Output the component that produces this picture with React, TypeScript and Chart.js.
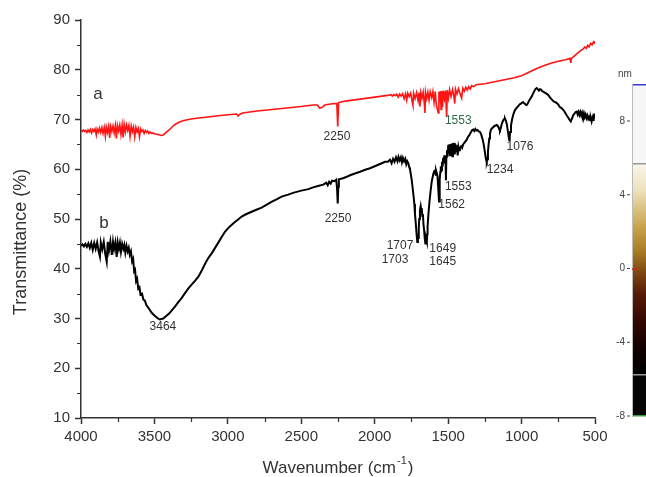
import React, { useEffect, useRef } from "react";
import { Chart, registerables } from "chart.js";
Chart.register(...registerables);

const FONT = 'Arial, "Liberation Sans", Helvetica, sans-serif';

const xTickValues = [4000, 3500, 3000, 2500, 2000, 1500, 1000, 500];
const xMinorTicks = [3750, 3250, 2750, 2250, 1750, 1250, 750];
const yTickValues = [10, 20, 30, 40, 50, 60, 70, 80, 90];
const yMinorTicks = [15, 25, 35, 45, 55, 65, 75, 85];

const xTitle = "Wavenumber (cm";
const xTitleSup = "-1";
const yTitle = "Transmittance (%)";

// curve a (red): [wavenumber, transmittance]
const curveA: [number, number][] = [
  [4000, 67.8], [3992, 67.6], [3984, 67.9], [3976, 67.6], [3968, 67.8], [3960, 67.4], [3952, 67.9], [3944, 67.5],
  [3936, 68.0], [3928, 67.3], [3920, 68.0], [3912, 67.6], [3904, 68.1], [3896, 66.9], [3890, 68.1], [3882, 67.5],
  [3874, 68.3], [3866, 67.4], [3858, 68.4], [3850, 67.2], [3842, 68.4], [3834, 66.6], [3828, 68.5], [3820, 67.4],
  [3812, 68.6], [3805, 66.3], [3798, 68.6], [3790, 67.6], [3782, 68.7], [3774, 67.3], [3766, 68.8], [3759, 66.2],
  [3752, 68.8], [3744, 67.7], [3736, 68.9], [3728, 67.0], [3720, 68.9], [3713, 66.4], [3706, 69.0], [3698, 67.5],
  [3690, 68.9], [3682, 67.8], [3674, 68.8], [3666, 66.6], [3658, 68.7], [3650, 67.6], [3642, 68.5], [3634, 66.5],
  [3626, 68.4], [3618, 67.5], [3610, 68.2], [3602, 66.5], [3594, 68.1], [3586, 67.6], [3578, 67.9], [3570, 67.2],
  [3562, 67.8], [3554, 67.4], [3546, 67.7], [3538, 67.2], [3530, 67.5], [3520, 67.2], [3510, 67.3], [3500, 67.1],
  [3490, 67.1], [3475, 67.0], [3455, 66.8], [3440, 66.9], [3420, 67.4], [3400, 67.9], [3380, 68.5], [3360, 69.0],
  [3330, 69.5], [3300, 69.8], [3250, 70.1], [3200, 70.3], [3135, 70.5], [3050, 70.8], [2980, 71.0], [2940, 71.1],
  [2930, 70.7], [2920, 71.0], [2900, 71.3], [2800, 71.7], [2700, 72.0], [2600, 72.3], [2500, 72.6], [2420, 72.9],
  [2390, 72.9], [2375, 72.3], [2360, 72.4], [2340, 72.9], [2300, 73.1], [2270, 73.2], [2258, 73.2], [2252, 68.6],
  [2246, 73.4], [2230, 73.5], [2200, 73.7], [2150, 73.9], [2100, 74.1], [2050, 74.3], [2000, 74.5], [1950, 74.7],
  [1900, 74.9],
  [1890, 75.0], [1880, 74.7], [1870, 75.0], [1860, 74.8], [1850, 75.1], [1840, 74.5], [1830, 75.1], [1820, 74.7],
  [1810, 75.2], [1800, 74.2], [1790, 75.2], [1782, 73.9], [1775, 75.3], [1765, 74.6], [1755, 75.3], [1745, 73.6],
  [1740, 72.9], [1735, 75.3], [1725, 74.2], [1715, 75.4], [1705, 73.8], [1698, 75.4], [1692, 72.6], [1686, 75.4],
  [1678, 74.3], [1670, 75.5], [1662, 73.2], [1658, 71.3], [1654, 75.5], [1646, 74.2], [1638, 75.5], [1630, 73.9],
  [1622, 75.6], [1612, 74.4], [1604, 75.6], [1596, 73.4], [1588, 75.6], [1580, 72.8], [1567, 71.3], [1563, 75.6],
  [1558, 73.6], [1553, 75.7], [1548, 72.0], [1544, 75.7], [1538, 72.5], [1533, 75.8], [1525, 74.2], [1518, 75.8],
  [1510, 70.5], [1506, 75.9], [1498, 74.3], [1490, 76.0], [1480, 74.6], [1470, 76.0], [1462, 74.9], [1455, 73.2],
  [1450, 76.1], [1440, 75.1], [1430, 76.2], [1420, 75.3], [1408, 74.3], [1400, 76.3], [1390, 75.7], [1380, 76.5],
  [1370, 75.9], [1360, 76.6], [1350, 76.1], [1340, 76.8], [1325, 76.6], [1310, 77.0], [1250, 77.2], [1200, 77.5],
  [1150, 77.8], [1100, 78.1], [1050, 78.4], [1000, 78.8], [950, 79.5], [900, 80.2], [850, 80.8], [800, 81.3],
  [750, 81.7], [700, 82.0], [670, 82.3], [665, 81.4], [660, 82.3], [640, 82.8], [620, 83.3], [600, 83.8],
  [580, 84.2], [570, 84.6], [560, 84.3], [550, 84.9], [540, 84.6], [530, 85.3], [520, 85.0], [510, 85.6],
  [505, 85.4], [500, 85.7],
];

// curve b (black): [wavenumber, transmittance]
const curveB: [number, number][] = [
  [4000, 44.6], [3990, 44.9], [3980, 44.5], [3970, 45.0], [3960, 44.4], [3950, 45.1], [3940, 44.2], [3930, 45.2],
  [3920, 43.8], [3910, 45.2], [3900, 44.0], [3890, 45.3], [3880, 43.5], [3871, 42.4], [3865, 45.3], [3855, 43.9],
  [3845, 45.4], [3835, 43.0], [3825, 41.4], [3818, 45.4], [3810, 43.6], [3800, 45.5], [3790, 42.8], [3782, 45.4],
  [3775, 43.9], [3766, 45.3], [3757, 42.4], [3750, 45.3], [3742, 44.0], [3735, 45.2], [3728, 43.4], [3720, 45.0],
  [3712, 44.0], [3705, 44.8], [3698, 43.2], [3690, 44.6], [3682, 43.5], [3675, 44.2], [3668, 42.8], [3660, 43.5],
  [3652, 41.5], [3645, 42.0], [3638, 39.5], [3632, 39.8], [3625, 37.5], [3618, 38.0], [3610, 36.0], [3602, 36.3],
  [3595, 34.8], [3585, 35.0], [3575, 33.8], [3565, 33.6], [3555, 32.7], [3540, 32.1], [3520, 31.2], [3500, 30.6],
  [3480, 30.1], [3464, 29.8], [3440, 30.0], [3420, 30.5], [3400, 31.0], [3380, 31.7], [3360, 32.4], [3340, 33.2],
  [3315, 34.1], [3292, 35.1], [3270, 36.0], [3250, 36.7], [3225, 37.5], [3201, 38.4], [3175, 39.8], [3150, 41.3],
  [3130, 42.3], [3110, 43.1], [3085, 44.3], [3060, 45.5], [3040, 46.5], [3020, 47.4], [2990, 48.4], [2960, 49.2],
  [2930, 49.9], [2906, 50.5], [2880, 50.9], [2850, 51.3], [2810, 51.8], [2770, 52.3], [2735, 52.9], [2700, 53.5],
  [2665, 54.0], [2634, 54.5], [2590, 54.9], [2550, 55.3], [2500, 55.7], [2452, 56.0], [2415, 56.4], [2380, 56.7],
  [2350, 56.9], [2330, 57.3], [2320, 56.8], [2310, 57.5], [2300, 57.1], [2290, 57.7], [2275, 57.6], [2262, 57.9],
  [2256, 56.0], [2252, 53.1], [2248, 56.5], [2244, 58.0], [2216, 58.2], [2190, 58.5], [2168, 58.8], [2130, 59.2],
  [2100, 59.5], [2065, 59.9], [2032, 60.2], [2000, 60.6], [1960, 61.1], [1930, 61.5], [1910, 61.5], [1896, 61.9],
  [1885, 61.2], [1875, 62.1], [1865, 61.5], [1855, 62.4], [1845, 61.6], [1838, 62.5], [1830, 61.8], [1822, 62.4],
  [1815, 61.4], [1808, 62.3], [1800, 61.6], [1792, 62.1], [1785, 61.0], [1778, 61.6], [1771, 61.2], [1765, 60.4],
  [1760, 60.0], [1754, 59.0], [1748, 57.8], [1742, 56.3], [1735, 54.5], [1730, 53.0], [1726, 51.1], [1720, 49.0],
  [1715, 47.0], [1710, 45.4], [1706, 45.9], [1703, 46.2], [1700, 48.0], [1697, 50.0], [1692, 51.8], [1687, 52.6],
  [1683, 51.8], [1680, 52.2], [1676, 50.6], [1672, 51.0], [1668, 49.0], [1663, 47.5], [1659, 46.0], [1655, 45.1],
  [1651, 47.0], [1649, 46.0], [1645, 45.5], [1642, 47.0], [1640, 48.5], [1634, 51.1], [1627, 53.5], [1620, 55.5],
  [1612, 57.5], [1605, 58.5], [1600, 59.2], [1595, 59.6], [1590, 59.9], [1585, 58.9], [1583, 59.8], [1578, 59.3],
  [1572, 58.5], [1568, 56.5], [1565, 55.0], [1562, 53.5], [1559, 55.5], [1556, 58.0], [1553, 59.5], [1550, 60.6],
  [1546, 59.8], [1542, 61.5], [1538, 60.5], [1534, 62.3], [1530, 61.2], [1526, 62.8], [1522, 61.8], [1518, 62.6],
  [1515, 57.8], [1512, 62.5], [1508, 63.8], [1504, 62.5], [1499, 64.9], [1495, 63.2], [1491, 65.0], [1487, 62.8],
  [1483, 65.1], [1479, 63.5], [1475, 65.2], [1471, 62.6], [1467, 65.3], [1463, 63.8], [1459, 65.3], [1455, 63.0],
  [1450, 65.0], [1445, 63.6], [1440, 64.8], [1435, 62.8], [1430, 64.5], [1425, 63.8], [1420, 64.2], [1412, 64.6],
  [1405, 64.3], [1398, 65.0], [1390, 65.3], [1382, 65.6], [1374, 65.9], [1365, 66.5], [1357, 66.8], [1350, 67.2],
  [1342, 67.6], [1336, 67.9], [1329, 68.0], [1322, 67.7], [1315, 68.1], [1308, 67.8], [1300, 67.9], [1292, 67.6],
  [1283, 67.5], [1275, 67.0], [1265, 66.0], [1258, 65.0], [1250, 63.5], [1244, 62.3], [1240, 61.7], [1237, 61.5],
  [1233, 62.0], [1229, 63.5], [1225, 64.8], [1220, 66.2], [1215, 67.2], [1209, 67.9], [1203, 68.2], [1195, 68.4],
  [1185, 68.7], [1177, 68.8], [1169, 68.9], [1162, 68.7], [1155, 68.3], [1150, 67.9], [1147, 67.8], [1142, 68.2],
  [1137, 68.9], [1130, 69.5], [1124, 69.9], [1118, 70.1], [1113, 70.2], [1107, 69.8], [1100, 69.0], [1095, 68.0],
  [1090, 67.0], [1086, 66.2], [1084, 65.9], [1081, 66.3], [1078, 67.5], [1072, 68.8], [1066, 69.8], [1060, 70.6],
  [1053, 71.3], [1045, 71.9], [1035, 72.3], [1020, 72.8], [1010, 73.1], [1000, 73.3], [990, 73.5], [980, 73.2],
  [972, 73.0], [965, 72.9], [958, 73.2], [950, 73.7], [940, 74.2], [931, 74.6], [922, 75.2], [915, 75.6],
  [906, 76.1], [897, 76.3], [890, 76.1], [882, 75.8], [875, 76.1], [868, 76.0], [860, 75.7], [851, 75.6],
  [843, 75.4], [835, 75.3], [826, 75.1], [817, 74.9], [808, 74.5], [800, 74.2], [790, 73.9], [780, 73.6],
  [770, 73.5], [760, 73.3], [750, 73.0], [740, 72.5], [728, 72.3], [715, 71.9], [708, 71.6], [700, 71.2],
  [692, 70.8], [685, 70.5], [675, 70.0], [665, 69.6], [660, 70.0], [655, 70.3], [648, 70.9], [640, 71.2],
  [632, 71.5], [624, 71.6], [618, 71.0], [612, 71.5], [606, 70.9], [600, 71.5], [594, 70.8], [588, 71.4],
  [582, 70.7], [576, 71.3], [570, 70.5], [564, 71.0], [558, 70.3], [552, 70.8], [546, 70.1], [540, 70.5],
  [534, 69.9], [528, 70.2], [523, 69.6], [518, 70.3], [513, 69.9], [509, 70.6], [505, 70.4], [502, 71.2],
  [500, 70.9],
];

// text annotations placed in data coordinates [text, wavenumber, transmittance, colour, size]
const curveLabels: [string, number, number, string, number][] = [
  ["a", 3884, 75.1, "#333333", 17],
  ["b", 3843, 49.2, "#333333", 17],
];
const peakLabels: [string, number, number, string][] = [
  ["2250", 2257, 66.5, "#333333"],
  ["1553", 1431, 69.8, "#2f6b47"],
  ["3464", 3442, 28.4, "#333333"],
  ["2250", 2250, 50.0, "#333333"],
  ["1707", 1828, 44.6, "#333333"],
  ["1703", 1862, 41.8, "#333333"],
  ["1649", 1537, 44.1, "#333333"],
  ["1645", 1537, 41.4, "#333333"],
  ["1562", 1476, 52.8, "#333333"],
  ["1553", 1431, 56.5, "#333333"],
  ["1234", 1147, 60.0, "#333333"],
  ["1076", 1011, 64.5, "#333333"],
];

// cropped colour bar on the right edge
const colorBarLabels = ["8", "4", "0", "-4", "-8"];
const colorBarUnit = "nm";

const decorPlugin = {
  id: "decor",
  afterDraw(chart: any) {
    const { ctx, chartArea: ca, scales } = chart;
    const xs = scales.x;
    const ys = scales.y;
    ctx.save();
    // minor ticks
    ctx.strokeStyle = "#333333";
    ctx.lineWidth = 1.2;
    ctx.beginPath();
    xMinorTicks.forEach((v) => {
      const px = Math.round(xs.getPixelForValue(v)) + 0.5;
      ctx.moveTo(px, ca.bottom);
      ctx.lineTo(px, ca.bottom + 4);
    });
    yMinorTicks.forEach((v) => {
      const py = Math.round(ys.getPixelForValue(v)) + 0.5;
      ctx.moveTo(ca.left, py);
      ctx.lineTo(ca.left - 4, py);
    });
    ctx.stroke();

    // axis titles
    ctx.fillStyle = "#333333";
    ctx.textBaseline = "middle";
    ctx.textAlign = "center";
    ctx.save();
    ctx.translate(21, (ca.top + ca.bottom) / 2 + 23);
    ctx.rotate(-Math.PI / 2);
    ctx.font = `18px ${FONT}`;
    ctx.fillText(yTitle, 0, 0);
    ctx.restore();

    ctx.font = `17px ${FONT}`;
    const w1 = ctx.measureText(xTitle).width;
    ctx.font = `11px ${FONT}`;
    const w2 = ctx.measureText(xTitleSup).width;
    ctx.font = `17px ${FONT}`;
    const w3 = ctx.measureText(")").width;
    const total = w1 + w2 + w3 + 2;
    let sx = (ca.left + ca.right) / 2 - total / 2;
    const ty = 468;
    ctx.textAlign = "left";
    ctx.fillText(xTitle, sx, ty);
    sx += w1 + 1;
    ctx.font = `11px ${FONT}`;
    ctx.fillText(xTitleSup, sx, ty - 7);
    sx += w2 + 1;
    ctx.font = `17px ${FONT}`;
    ctx.fillText(")", sx, ty);

    // curve labels
    ctx.textAlign = "center";
    curveLabels.forEach(([t, w, v, c, s]) => {
      ctx.font = `${s}px ${FONT}`;
      ctx.fillStyle = c;
      ctx.fillText(t, xs.getPixelForValue(w), ys.getPixelForValue(v));
    });
    ctx.font = `12px ${FONT}`;
    peakLabels.forEach(([t, w, v, c]) => {
      ctx.fillStyle = c;
      ctx.fillText(t, xs.getPixelForValue(w), ys.getPixelForValue(v));
    });

    // colour bar
    const bx = 632;
    const bw = chart.width - bx;
    const top = 84;
    const bottom = 416;
    ctx.fillStyle = "#f7f7f7";
    ctx.fillRect(bx, top, bw, 80);
    const g = ctx.createLinearGradient(0, 164, 0, 374);
    g.addColorStop(0, "#faf6ec");
    g.addColorStop(0.12, "#eee2bf");
    g.addColorStop(0.3, "#c9a34c");
    g.addColorStop(0.42, "#a77a24");
    g.addColorStop(0.52, "#7b4612");
    g.addColorStop(0.62, "#571a08");
    g.addColorStop(0.76, "#300600");
    g.addColorStop(0.9, "#0d0000");
    g.addColorStop(1, "#000000");
    ctx.fillStyle = g;
    ctx.fillRect(bx, 164, bw, 210);
    ctx.fillStyle = "#050505";
    ctx.fillRect(bx, 374, bw, bottom - 374);
    ctx.fillStyle = "#999999";
    ctx.fillRect(bx, 163, bw, 1.5);
    ctx.fillRect(bx, 374, bw, 1.5);
    ctx.fillStyle = "#3a3ad0";
    ctx.fillRect(bx, top, bw, 1.5);
    ctx.fillStyle = "#3a9a3a";
    ctx.fillRect(bx, bottom - 1, bw, 1.5);
    ctx.fillStyle = "#bbbbbb";
    ctx.fillRect(bx, top, 1, bottom - top);
    ctx.fillStyle = "#d02010";
    ctx.fillRect(bx, 268.5, 5, 1.5);

    ctx.fillStyle = "#444444";
    ctx.font = `10px ${FONT}`;
    ctx.textAlign = "center";
    ctx.fillText(colorBarUnit, 625, 74);
    ctx.textAlign = "right";
    const ly0 = 121;
    const ly1 = 416;
    colorBarLabels.forEach((t, i) => {
      const ly = ly0 + ((ly1 - ly0) * i) / (colorBarLabels.length - 1);
      ctx.fillText(t, 625, ly);
      ctx.fillRect(627, ly - 0.5, 3, 1);
    });
    ctx.restore();
  },
};

export default function App() {
  const ref = useRef<HTMLCanvasElement>(null);
  useEffect(() => {
    document.body.style.margin = "0";
    if (!ref.current) return;
    const chart = new Chart(ref.current, {
      type: "line",
      data: {
        datasets: [
          {
            label: "a",
            data: curveA.map(([x, y]) => ({ x, y })),
            borderColor: "#ff1414",
            borderWidth: 1.6,
            pointRadius: 0,
            tension: 0,
          },
          {
            label: "b",
            data: curveB.map(([x, y]) => ({ x, y })),
            borderColor: "#000000",
            borderWidth: 2,
            pointRadius: 0,
            tension: 0,
          },
        ],
      },
      options: {
        responsive: false,
        animation: false,
        layout: { padding: { top: 20, right: 51, left: 0, bottom: 0 } },
        plugins: { legend: { display: false }, tooltip: { enabled: false } },
        scales: {
          x: {
            type: "linear",
            reverse: true,
            min: 500,
            max: 4000,
            afterFit: (s: any) => {
              s.height = 59;
            },
            afterBuildTicks: (s: any) => {
              s.ticks = xTickValues.map((v) => ({ value: v }));
            },
            ticks: {
              autoSkip: false,
              maxRotation: 0,
              color: "#333333",
              font: { family: FONT, size: 15 },
              padding: 4,
              callback: (v: any) => String(v),
            },
            grid: {
              drawOnChartArea: false,
              drawTicks: true,
              tickLength: 6,
              tickColor: "#333333",
              tickWidth: 1.5,
            },
            border: { display: true, color: "#333333", width: 1.5 },
          },
          y: {
            type: "linear",
            min: 10,
            max: 90,
            afterFit: (s: any) => {
              s.width = 81;
            },
            afterBuildTicks: (s: any) => {
              s.ticks = yTickValues.map((v) => ({ value: v }));
            },
            ticks: {
              color: "#333333",
              font: { family: FONT, size: 15 },
              padding: 5,
              callback: (v: any) => String(v),
            },
            grid: {
              drawOnChartArea: false,
              drawTicks: true,
              tickLength: 6,
              tickColor: "#333333",
              tickWidth: 1.5,
            },
            border: { display: true, color: "#333333", width: 1.5 },
          },
        },
      },
      plugins: [decorPlugin],
    });
    return () => chart.destroy();
  }, []);
  return (
    <div style={{ position: "absolute", left: 0, top: 0, width: 646, height: 477, background: "#ffffff" }}>
      <canvas ref={ref} width={646} height={477} style={{ display: "block" }} />
    </div>
  );
}
